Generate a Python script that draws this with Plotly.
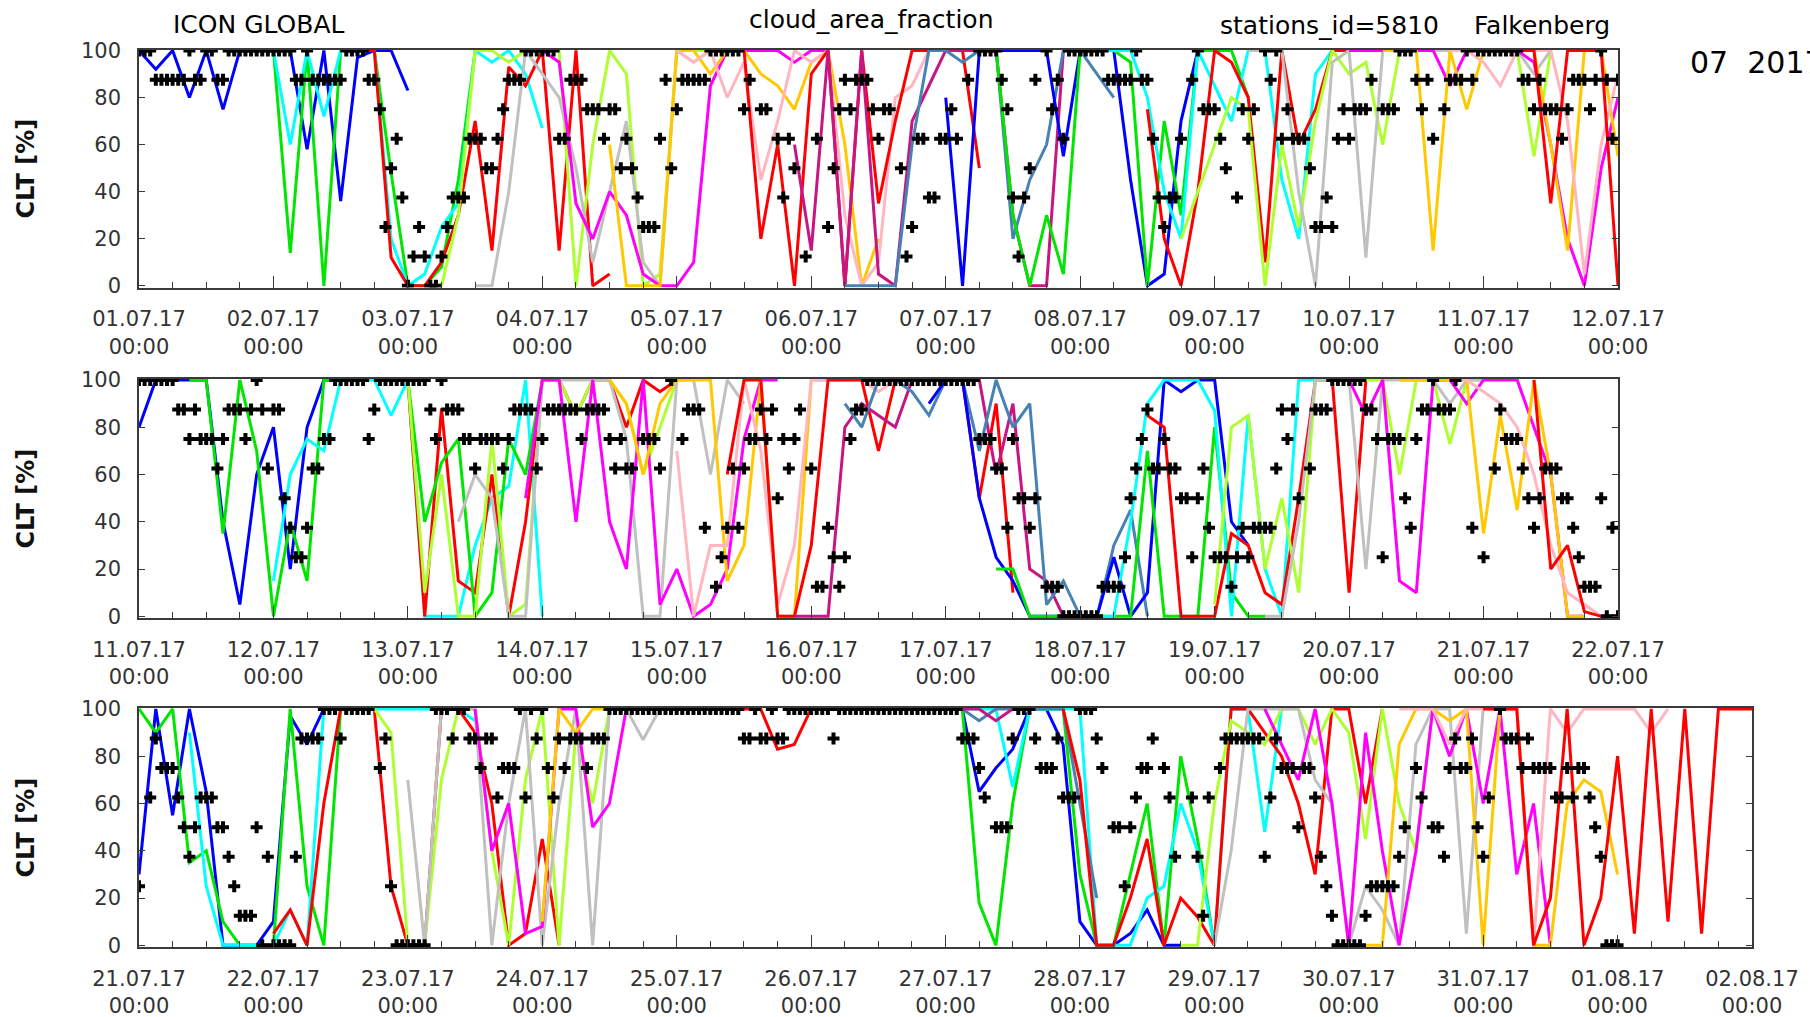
import pandas as pd
import plotly.graph_objects as go

# ---------------- data ----------------
# observations: one character per hour, okta 0-8 ('.' = missing)
p1_start = "2017-07-01"
p1_end = "2017-07-12"
p1_obs_okta = [
    "888777777877887788888888",
    "888877877777788887762453",
    "012100123335554456777888",
    "888557776665664543222574",
    "67777788888867.66.5354.1",
    ".5.246767776566.41255335",
    "565.7.88887631347.867588",
    "8888877777877532335.7866",
    "654.3656.878565554223256",
    "56667.6668887675.6777878",
    "8888888776766656777678757",
]
p2_start = "2017-07-11"
p2_end = "2017-07-22"
p2_obs_okta = [
    "888888877676665677767875",
    "774322355668888886788888",
    "888876877766566665677775",
    "67777776777765655.6665.8",
    ".67773.1235356676746567.",
    "511321267788888888888888",
    "88888866655364434.111000",
    "000011112456755655442453",
    "2221232333357674.5777888",
    "88877626664367787778..3.",
    "2.57666543455544321114030",
]
p3_start = "2017-07-21"
p3_end = "2017-08-02"
p3_obs_okta = [
    "2.5766654345554432111403",
    "000037777888788888.67200",
    "0000.8887887767756668587",
    "865767776777888888888888",
    "888888888888778778778888",
    "888878888888888888888888",
    "88877765.444788876667555",
    "88876.44245667.653..5315",
    ".67777777357666466532100",
    "00012222234.65.443676674",
    "35.877767666655656654300",
    "0",
]

# forecast runs: start hour (from panel start), colour, values (%) every 3 h
p1_run_start = [0, 24, 24, 36, 54, 60, 72, 84, 96, 105, 117, 126, 144, 150, 168, 180, 186, 198, 216, 222, 234, 246]
p1_run_color = ["blue", "green", "cyan", "red", "greenyellow", "gray", "magenta", "gold", "pink", "red", "mvr",
                "steelblue", "blue", "green", "cyan", "red", "greenyellow", "gray", "magenta", "gold", "pink", "red"]
p1_run_vals = [
    [100, 92, 100, 80, 100, 75, 100, 100, 100, 100, 58, 100, 36, 97, 100, 100, 83],
    [100, 14, 100, 0, 100, 100, 100, 48, 0, 0, 8, 45, 100, 100],
    [100, 60, 100, 72, 100, 100, 100, 20, 0, 5, 25, 35, 100, 95, 100, 90, 67],
    [100, 100, 100, 12, 0, 0, 10, 30, 70, 15, 93, 85, 100, 15, 100, 0, 5],
    [0, 30, 100, 100, 95, 100, 100, 100, 0, 60, 100, 90, 0, 5, 100, 100, 100],
    [0, 0, 40, 100, 90, 80, 50, 10, 40, 70, 10, 0, 100, 95, 100],
    [100, 95, 35, 20, 40, 30, 5, 0, 0, 10, 85, 100, 100, 100, 100, 95, 100, 100],
    [60, 0, 0, 0, 100, 100, 90, 100, 100, 90, 85, 75, 95, 100, 60, 0, 20],
    [100, 95, 100, 80, 95, 45, 70, 100, 95, 100, 30, 0, 10, 80, 85, 100, 100],
    [100, 100, 20, 60, 0, 90, 100, 0, 100, 35, 70, 100, 100, 100, 100, 50],
    [60, 15, 100, 0, 100, 5, 0, 70, 85, 100, 100, 100, 100, 30, 0, 0, 100],
    [0, 0, 0, 0, 60, 100, 100, 95, 100, 100, 20, 45, 60, 100, 100, 90, 80],
    [80, 0, 100, 100, 100, 100, 100, 55, 100, 100, 100, 45, 0, 5, 70, 100, 100],
    [100, 100, 30, 0, 30, 5, 100, 100, 100, 95, 0, 70, 30, 100, 100, 100, 80],
    [100, 100, 100, 100, 80, 40, 20, 100, 85, 70, 100, 100, 45, 20, 90, 100],
    [75, 20, 0, 40, 100, 95, 80, 10, 100, 60, 75, 100, 100],
    [20, 40, 60, 80, 75, 0, 60, 25, 70, 100, 90, 95, 60, 100, 100, 100, 100, 100, 100, 100, 100, 55, 100],
    [100, 100, 100, 40, 0, 95, 100, 12, 100, 100, 100, 100, 100, 100, 100, 100, 100, 90, 100],
    [100, 100, 100, 100, 100, 100, 85, 100, 100, 100, 100, 95, 60, 20, 0, 50, 80],
    [100, 100, 100, 15, 100, 75, 100, 100, 100, 100, 60, 15, 100, 100, 55],
    [100, 100, 95, 85, 100, 100, 100, 70, 5, 60, 90],
    [100, 100, 35, 100, 100, 100, 0],
]

p2_run_start = [0, 9, 24, 42, 45, 48, 57, 69, 84, 96, 105, 117, 126, 141, 153, 171, 180, 192, 201, 213, 225, 234, 249]
p2_run_color = ["blue", "green", "cyan", "red", "green", "greenyellow", "gray", "magenta", "gold", "pink", "red", "mvr",
                "steelblue", "blue", "green", "cyan", "red", "greenyellow", "gray", "magenta", "gold", "pink", "red"]
p2_run_vals = [
    [80, 100, 100, 100, 100, 40, 5, 60, 80, 20, 80, 100, 100],
    [100, 100, 35, 100, 70, 0, 40, 15, 100, 100, 100],
    [15, 60, 75, 70, 100, 100, 100, 85, 100, 0, 0, 0, 30, 50, 55, 100, 0],
    [100, 100, 100, 0, 88, 15, 10, 60, 0, 40, 100, 100, 85, 100, 100, 80, 100, 95, 100],
    [100, 100, 40, 65, 75, 0, 10, 75, 60, 100],
    [100, 10, 60, 0, 0, 75, 0, 5, 100, 100, 85, 100, 100, 90, 60, 80, 100],
    [40, 60, 50, 0, 0, 100, 100, 100, 100, 100, 75, 0, 0, 100, 100, 60, 100, 90],
    [50, 100, 100, 40, 100, 40, 20, 100, 5, 20, 0, 5, 20, 75, 100, 100],
    [100, 90, 60, 90, 100, 100, 100, 15, 30, 100, 0, 0, 100, 100, 100],
    [70, 0, 30, 30, 100, 70, 5, 30, 100, 100, 100, 100, 95, 100],
    [60, 100, 100, 0, 0, 30, 100, 100, 100, 70, 100, 100, 100, 100, 100, 50, 90, 10],
    [0, 0, 0, 80, 90, 85, 80, 100, 100, 100, 100, 100, 60, 90, 20, 15, 0],
    [90, 80, 100, 100, 95, 85, 100, 100, 70, 100, 80, 90, 5, 15, 0, 0, 30, 45, 0],
    [90, 100, 100, 50, 25, 15, 0, 0, 0, 0, 0, 25, 0, 10, 100, 95, 100, 100, 40, 30],
    [20, 20, 0, 0, 0, 0, 0, 0, 0, 70, 0, 0, 0, 80, 10, 0, 0],
    [0, 0, 40, 90, 100, 100, 100, 87, 0, 85, 20, 0, 100, 100, 100],
    [85, 80, 0, 0, 0, 35, 30, 10, 5, 50, 100, 100, 10, 100],
    [5, 80, 85, 20, 50, 10, 100, 100, 100, 100, 100, 60, 100, 100, 73, 100, 100],
    [0, 0, 40, 100, 100, 100, 20, 100, 100, 100, 100, 90, 100, 100],
    [100, 100, 85, 100, 15, 10, 100, 100, 90, 100, 100, 100, 80, 60, 0, 0],
    [100, 100, 100, 100, 100, 35, 85, 45, 100, 60, 0, 0],
    [100, 100, 95, 90, 80, 60, 30, 10, 5, 0],
    [100, 20, 30, 2, 0, 0],
]

p3_run_start = [0, 0, 9, 24, 39, 48, 60, 72, 96, 141, 141, 144, 144, 144, 165, 186, 192, 201, 216, 225, 240]
p3_run_color = ["blue", "green", "cyan", "red", "greenyellow", "gray", "magenta", "gold", "red", "blue", "green",
                "cyan", "steelblue", "mvr", "red", "greenyellow", "gray", "magenta", "gold", "pink", "red"]
p3_run_vals = [
    [30, 100, 55, 100, 65, 0, 0, 0, 10, 97, 85, 100, 100],
    [100, 90, 100, 35, 40, 10, 0, 0, 0, 100, 25, 0, 100, 100],
    [90, 25, 0, 0, 0, 0, 15, 0, 100, 100, 100, 100, 100, 100, 100, 100, 100, 95],
    [5, 15, 0, 60, 100, 100, 100, 25, 0, 0, 100, 100, 90, 60, 0, 5, 45, 0],
    [100, 100, 90, 0, 0, 70, 100, 100, 40, 0, 70, 100, 0, 90, 60, 100, 100, 100],
    [70, 0, 100, 100, 100, 0, 60, 100, 0, 60, 100, 0, 100, 100, 87, 100],
    [100, 40, 60, 5, 8, 100, 100, 50, 60, 100],
    [10, 100, 90, 100, 100, 100, 100, 100],
    [100, 100, 100, 100, 100, 100, 83, 85, 100, 100],
    [100, 100, 100, 65, 75, 83, 100, 100, 85, 10, 0, 0, 5, 15, 0, 0],
    [100, 100, 100, 18, 0, 60, 100, 100, 100, 30, 0, 0, 30, 60, 0, 80, 45, 0],
    [100, 100, 100, 100, 67, 100, 100, 100, 100, 0, 0, 0, 20, 25, 60, 40, 0, 100, 100, 48, 100],
    [100, 100, 95, 100, 100, 100, 100, 100, 60, 20],
    [100, 100, 100, 95, 100],
    [100, 70, 0, 0, 20, 45, 0, 20, 12, 0, 100, 100, 90, 80, 60, 30, 100, 100, 60, 100],
    [0, 0, 60, 95, 90, 85, 100, 100, 85, 100, 90, 45, 100, 60, 40, 100],
    [0, 40, 100, 100, 100, 100, 70, 60, 0, 25, 15, 0, 85, 100, 100, 5, 100],
    [100, 85, 70, 100, 60, 0, 90, 40, 0, 40, 100, 80, 100, 60, 100, 30, 60, 0],
    [0, 0, 0, 85, 100, 100, 95, 100, 0, 100, 100, 0, 0, 60, 70, 65, 30],
    [100, 100, 100, 85, 100, 100, 100, 100, 0, 100, 90, 100, 100, 100, 100, 90, 100],
    [100, 100, 100, 0, 20, 100, 0, 20, 80, 5, 100, 10, 100, 5, 100, 100, 100],
]

y_ticks = [0, 20, 40, 60, 80, 100]

# ---------------- styling ----------------
COLORS = {
    "blue": "#0000ff", "green": "#00e600", "cyan": "#00ffff", "red": "#ff0000",
    "greenyellow": "#adff2f", "gray": "#c0c0c0", "magenta": "#ff00ff", "gold": "#ffc800",
    "pink": "#ffb6c1", "steelblue": "#4682b4", "mvr": "#c71585",
}
FONT = "DejaVu Sans"
W, H = 1810, 1017
AX = "#3a3a3a"

panels = [
    dict(start=p1_start, end=p1_end, obs=p1_obs_okta, rs=p1_run_start, rc=p1_run_color, rv=p1_run_vals,
         ydom=(1 - 287.5 / H, 1 - 49.5 / H), xdom=(139 / W, 1618 / W)),
    dict(start=p2_start, end=p2_end, obs=p2_obs_okta, rs=p2_run_start, rc=p2_run_color, rv=p2_run_vals,
         ydom=(1 - 618 / H, 1 - 379 / H), xdom=(139 / W, 1618 / W)),
    dict(start=p3_start, end=p3_end, obs=p3_obs_okta, rs=p3_run_start, rc=p3_run_color, rv=p3_run_vals,
         ydom=(1 - 947 / H, 1 - 708 / H), xdom=(139 / W, 1752 / W)),
]

fig = go.Figure()
layout = {}
annotations = []

for i, p in enumerate(panels):
    sfx = "" if i == 0 else str(i + 1)
    t0 = pd.Timestamp(p["start"])
    # forecast lines
    for s, c, vals in zip(p["rs"], p["rc"], p["rv"]):
        xs = [t0 + pd.Timedelta(hours=s + 3 * k) for k in range(len(vals))]
        fig.add_trace(go.Scatter(x=xs, y=vals, mode="lines", line=dict(color=COLORS[c], width=3),
                                 xaxis="x" + sfx, yaxis="y" + sfx, showlegend=False, hoverinfo="skip"))
    # observations
    ox, oy = [], []
    h = 0
    for day in p["obs"]:
        for ch in day:
            if ch != ".":
                ox.append(t0 + pd.Timedelta(hours=h))
                oy.append(int(ch) * 12.5)
            h += 1
    fig.add_trace(go.Scatter(x=ox, y=oy, mode="markers",
                             marker=dict(symbol="cross", size=10, color="black", line=dict(width=0)),
                             xaxis="x" + sfx, yaxis="y" + sfx, showlegend=False, hoverinfo="skip"))

    days = pd.date_range(p["start"], p["end"], freq="D")
    layout["xaxis" + sfx] = dict(
        domain=list(p["xdom"]), anchor="y" + sfx, type="date",
        range=[p["start"], p["end"]],
        showline=True, linecolor=AX, linewidth=1.5, mirror=True, showgrid=False, zeroline=False,
        ticks="inside", ticklen=12, tickwidth=1.3, tickcolor=AX,
        tickmode="array", tickvals=list(days),
        ticktext=[d.strftime("%d.%m.%y") + "<br>" + d.strftime("%H:%M") for d in days],
        tickfont=dict(family=FONT, size=21, color="#333333"),
        ticklabelstandoff=12, automargin=False,
        minor=dict(ticks="inside", ticklen=6, tickwidth=1.2, tickcolor=AX,
                   tickmode="linear", tick0=p["start"], dtick=6 * 3600 * 1000, showgrid=False),
    )
    layout["yaxis" + sfx] = dict(
        domain=list(p["ydom"]), anchor="x" + sfx, range=[-0.7, 100.4],
        showline=True, linecolor=AX, linewidth=1.5, mirror="ticks", showgrid=False, zeroline=False,
        ticks="inside", ticklen=6, tickwidth=1.3, tickcolor=AX,
        tickmode="array", tickvals=y_ticks, ticktext=[str(v) for v in y_ticks],
        tickfont=dict(family=FONT, size=21, color="#333333"),
        ticklabelstandoff=12, automargin=False,
    )
    annotations.append(dict(text="CLT [%]", x=25 / W, y=(p["ydom"][0] + p["ydom"][1]) / 2,
                            xref="paper", yref="paper", xanchor="center", yanchor="middle",
                            textangle=-90, showarrow=False,
                            font=dict(family=FONT, size=24, color="#111111", weight="bold")))

annotations += [
    dict(text="ICON GLOBAL", x=171 / W, y=1 - 25 / H, xanchor="left", yanchor="middle"),
    dict(text="cloud_area_fraction", x=871 / W, y=1 - 19 / H, xanchor="center", yanchor="middle"),
    dict(text="stations_id=5810", x=1218 / W, y=1 - 26 / H, xanchor="left", yanchor="middle"),
    dict(text="Falkenberg", x=1472 / W, y=1 - 26 / H, xanchor="left", yanchor="middle"),
]
for a in annotations[-4:]:
    a.update(xref="paper", yref="paper", showarrow=False, font=dict(family=FONT, size=25, color="black"))
annotations.append(dict(text="07  2017", x=1688 / W, y=1 - 63 / H, xref="paper", yref="paper",
                        xanchor="left", yanchor="middle", showarrow=False,
                        font=dict(family=FONT, size=30, color="black")))

fig.update_layout(
    width=W, height=H, margin=dict(l=0, r=0, t=0, b=0, autoexpand=False),
    paper_bgcolor="white", plot_bgcolor="white",
    annotations=annotations, **layout,
)

fig.write_html("out.html")
